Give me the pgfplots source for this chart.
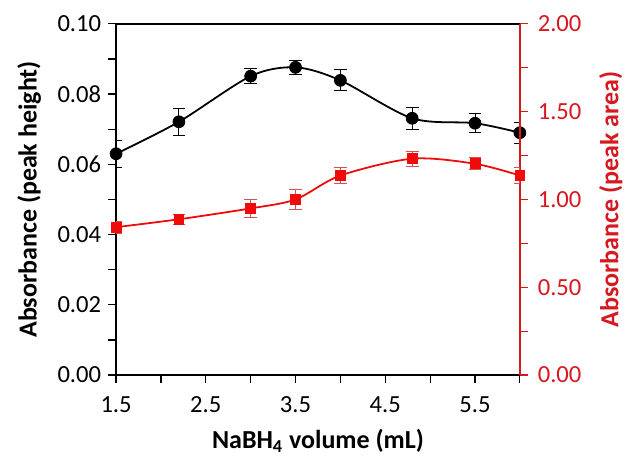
\documentclass[border=0pt]{standalone}
\usepackage{fontspec}
\setmainfont{Carlito}
\usepackage{pgfplots}
\pgfplotsset{compat=1.18}
\definecolor{axred}{RGB}{214,24,32}
\definecolor{ptred}{RGB}{240,10,10}
\definecolor{barred}{RGB}{215,80,80}
\begin{document}
\begin{tikzpicture}
\pgfplotsset{
  base/.style={
    scale only axis, width=203.5pt, height=177pt,
    at={(0,0)}, anchor=south west,
    xmin=1.5, xmax=6.0,
    tick align=outside, major tick length=4pt, minor tick length=4pt,
    tick label style={font=\fontsize{12.4}{14}\selectfont},
    label style={font=\fontsize{13.1}{15}\selectfont\bfseries},
    /pgf/number format/assume math mode=true,
  }
}
% left axis: peak height
\begin{axis}[base,
    ytick pos=left, xtick pos=bottom,
    ymin=0, ymax=0.10,
    ytick={0,0.02,...,0.1}, minor ytick={0.01,0.03,...,0.09},
    xtick={1.5,2.5,3.5,4.5,5.5}, minor xtick={2,3,4,5,6},
    yticklabel style={/pgf/number format/.cd, fixed, fixed zerofill, precision=2},
    xticklabel style={yshift=-3.5pt, /pgf/number format/.cd, fixed, fixed zerofill, precision=1},
    xlabel={NaBH\textsubscript{4} volume (mL)},
    ylabel={Absorbance (peak height)},
    ylabel style={yshift=1.5pt},
    xlabel style={yshift=-1.5pt},
    axis line style={line width=0.8pt},
    every tick/.style={black, line width=0.6pt},
  ]
  \addplot[black, line width=0.9pt, smooth, tension=0.5] coordinates {
    (1.5,0.0630) (2.2,0.0721) (3.0,0.0851) (3.5,0.0876)
    (4.0,0.0839) (4.8,0.0731) (5.5,0.0717) (6.0,0.0690)};
  \addplot[draw=none, mark=*, mark size=3pt, mark options={fill=black, draw=black},
    error bars/.cd, y dir=both, y explicit,
    error bar style={black, line width=0.5pt},
    error mark options={rotate=90, mark size=3.2pt, line width=0.5pt, black}]
    coordinates {
    (1.5,0.0630) +- (0,0.0038)
    (2.2,0.0721) +- (0,0.0039)
    (3.0,0.0851) +- (0,0.0022)
    (3.5,0.0876) +- (0,0.0020)
    (4.0,0.0839) +- (0,0.0030)
    (4.8,0.0731) +- (0,0.0031)
    (5.5,0.0717) +- (0,0.0027)
    (6.0,0.0690) +- (0,0.0030)};
\end{axis}
% right axis: peak area
\begin{axis}[base,
    axis y line*=right, axis x line=none,
    ymin=0, ymax=2.0,
    ytick={0,0.5,...,2}, minor ytick={0.25,0.75,...,1.75},
    yticklabel style={axred, xshift=1.5pt, /pgf/number format/.cd, fixed, fixed zerofill, precision=2},
    ylabel={Absorbance (peak area)},
    ylabel style={axred, yshift=-2pt},
    axis line style={axred, line width=0.8pt},
    every tick/.style={axred, line width=0.6pt},
  ]
  \addplot[ptred, line width=0.9pt, smooth, tension=0.5] coordinates {
    (1.5,0.842) (2.2,0.887) (3.0,0.949) (3.5,1.000)
    (4.0,1.136) (4.8,1.232) (5.5,1.203) (6.0,1.136)};
  \addplot[draw=none, mark=square*, mark size=2.5pt, mark options={fill=ptred, draw=ptred},
    error bars/.cd, y dir=both, y explicit,
    error bar style={barred, line width=0.5pt},
    error mark options={rotate=90, mark size=3.2pt, line width=0.5pt, barred}]
    coordinates {
    (1.5,0.842) +- (0,0.035)
    (2.2,0.887) +- (0,0.030)
    (3.0,0.949) +- (0,0.052)
    (3.5,1.000) +- (0,0.055)
    (4.0,1.136) +- (0,0.048)
    (4.8,1.232) +- (0,0.042)
    (5.5,1.203) +- (0,0.034)
    (6.0,1.136) +- (0,0.045)};
\end{axis}
\path (-58.5pt,-39pt) rectangle (256pt,189pt);
\end{tikzpicture}
\end{document}
